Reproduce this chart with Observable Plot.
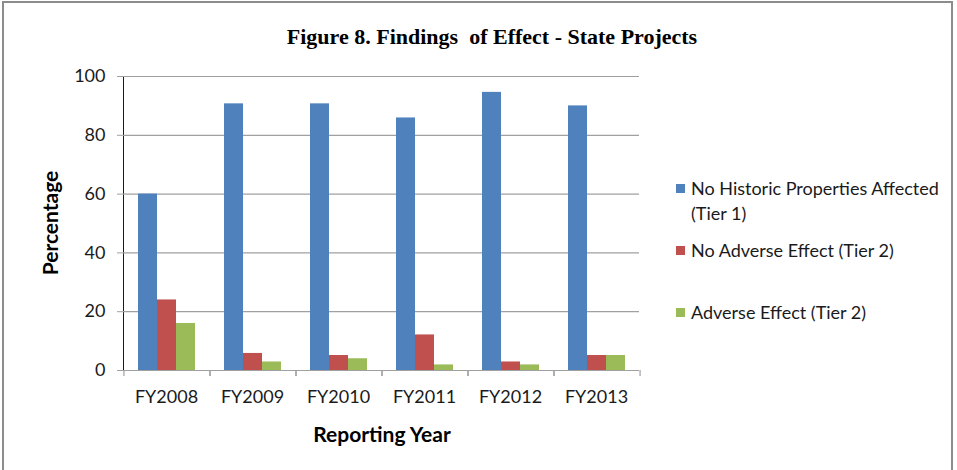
<!DOCTYPE html>
<html>
<head>
<meta charset="utf-8">
<script src="https://cdn.jsdelivr.net/npm/d3@7"></script>
<script src="https://cdn.jsdelivr.net/npm/@observablehq/plot@0.6"></script>
<style>
  html, body { margin: 0; padding: 0; background: #fff; }
  #wrap { position: relative; width: 957px; height: 470px; overflow: hidden; background: #fff; font-family: Lato, "Open Sans", sans-serif; color: #1a1a1a; }
  #frame { position: absolute; left: 2px; top: 1px; width: 951px; height: 490px; border: 2px solid #8c8c8c; box-sizing: border-box; }
  #chart { position: absolute; left: 0; top: 0; }
  #title { position: absolute; left: 0; width: 984px; top: 25px; text-align: center; font-family: "Liberation Serif", "DejaVu Serif", serif; font-weight: bold; font-size: 22px; line-height: 24px; white-space: pre; color: #000; }
  .axt { position: absolute; font-weight: bold; font-size: 21px; line-height: 24px; white-space: nowrap; color: #000; }
  #ylab { left: 50px; top: 223px; transform: translate(-50%, -50%) rotate(-90deg); }
  #xlab { left: 382px; top: 434px; transform: translate(-50%, -50%); }
  .leg { position: absolute; left: 676px; font-size: 18px; line-height: 25px; white-space: nowrap; color: #1a1a1a; }
  .leg .sw { position: absolute; left: 0; top: 8px; width: 9px; height: 9px; }
  .leg .tx { position: absolute; left: 15px; top: 0; }
  svg [aria-label^="y-axis"] line, svg [aria-label^="y-axis"] path { stroke: #a0a0a0; }
  svg text { fill: #1a1a1a; }
</style>
</head>
<body>
<div id="wrap">
  <div id="frame"></div>
  <div id="chart"></div>
  <div id="title"></div>
  <div id="ylab" class="axt"></div>
  <div id="xlab" class="axt"></div>
  <div id="legend"></div>
</div>
<script>
const titleText = "Figure 8. Findings  of Effect - State Projects";
const yTitle = "Percentage";
const xTitle = "Reporting Year";
const years = ["FY2008", "FY2009", "FY2010", "FY2011", "FY2012", "FY2013"];
const series = ["No Historic Properties Affected (Tier 1)", "No Adverse Effect (Tier 2)", "Adverse Effect (Tier 2)"];
const legendLines = [["No Historic Properties Affected", "(Tier 1)"], ["No Adverse Effect (Tier 2)"], ["Adverse Effect (Tier 2)"]];
const tier1 = [60, 90.7, 90.7, 85.9, 94.6, 90.0];
const noAdverse = [24, 5.8, 5.1, 12.1, 2.9, 5.1];
const adverse = [16, 2.9, 4.0, 1.9, 1.9, 5.1];
const yTicks = [0, 20, 40, 60, 80, 100];
const colors = ["#4F81BD", "#C0504D", "#9BBB59"];

const values = [tier1, noAdverse, adverse];
const data = years.flatMap((year, i) => series.map((s, k) => ({year, series: s, value: values[k][i]})));

const W = 957, H = 470, mL = 122, mR = 317, mT = 76, mB = 100;
const padOuter = 0.76;
const facetW = (W - mL - mR) / years.length;
const step = facetW / (series.length + 2 * padOuter);
const edgeOff = step * (padOuter + 0.5);
const gridColor = "#a0a0a0";

const chart = Plot.plot({
  width: W, height: H,
  marginTop: mT, marginBottom: mB, marginLeft: mL, marginRight: mR,
  style: {fontFamily: "Lato, 'Open Sans', sans-serif", fontSize: "18px", background: "transparent", overflow: "visible"},
  facet: {data, x: "year"},
  fx: {domain: years, padding: 0, label: null, axis: "bottom", tickSize: 0, tickPadding: 20},
  x: {domain: series, paddingInner: 0, paddingOuter: padOuter, axis: null},
  y: {domain: [0, 100], ticks: yTicks, tickSize: 6, tickPadding: 12, label: null, line: true},
  color: {domain: series, range: colors},
  marks: [
    Plot.ruleY(yTicks.slice(1), {stroke: gridColor, strokeWidth: 1.2}),
    Plot.barY(data, {x: "series", y: "value", fill: "series"}),
    Plot.ruleY([0], {stroke: gridColor, strokeWidth: 1.2}),
    Plot.ruleX([series[0]], {y1: 0, y2: -2, dx: -edgeOff, stroke: gridColor, strokeWidth: 1.2}),
    Plot.ruleX([series[2]], {y1: 0, y2: -2, dx: edgeOff, stroke: gridColor, strokeWidth: 1.2})
  ]
});
document.getElementById("chart").appendChild(chart);

document.getElementById("title").textContent = titleText;
document.getElementById("ylab").textContent = yTitle;
document.getElementById("xlab").textContent = xTitle;

const legendTops = [175.5, 237.5, 299.5];
const legend = document.getElementById("legend");
legendLines.forEach((lines, k) => {
  const item = document.createElement("div");
  item.className = "leg";
  item.style.top = legendTops[k] + "px";
  const sw = document.createElement("div");
  sw.className = "sw";
  sw.style.background = colors[k];
  item.appendChild(sw);
  const tx = document.createElement("div");
  tx.className = "tx";
  tx.innerHTML = lines.map(l => l.replace(/&/g, "&amp;").replace(/</g, "&lt;")).join("<br>");
  item.appendChild(tx);
  legend.appendChild(item);
});
</script>
</body>
</html>
